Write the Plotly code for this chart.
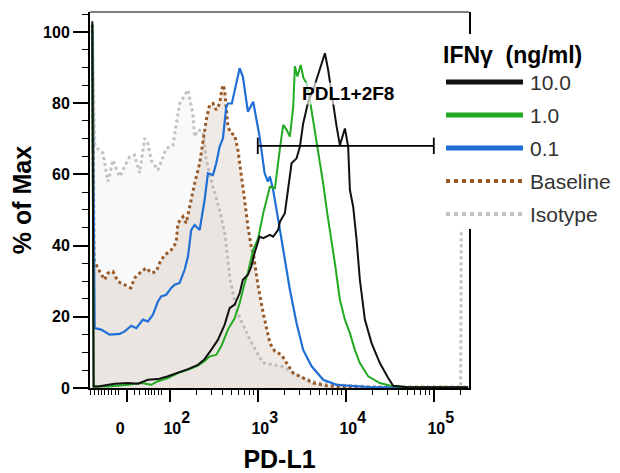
import numpy as np
import plotly.graph_objects as go

# ---------------- data ----------------
# x values are in biexponential display units (10^k sits at k, the "0" tick at ZERO_POS)
ZERO_POS = 1.51
x_tick_values = [ZERO_POS, 2, 3, 4, 5]
SUP = "<sup><sup><span style='font-size:16px'>{}</span></sup></sup>"
x_tick_labels = ["0\u00a0\u00a0\u00a0\u00a0\u00a0\u00a0"] + ["10" + SUP.format(k) for k in (2, 3, 4, 5)]
y_tick_values = [0, 20, 40, 60, 80, 100]

iso_x = [1.12, 1.147, 1.185, 1.241, 1.298, 1.355, 1.431, 1.545, 1.601, 1.658,
         1.715, 1.752, 1.790, 1.866, 1.960, 2.036, 2.112, 2.207, 2.263, 2.283,
         2.320, 2.377, 2.415, 2.491, 2.567, 2.624, 2.661, 2.685, 2.760, 2.797,
         2.911, 3.058, 3.286, 3.479, 3.672, 3.933, 4.3, 5.0, 5.305, 5.318]
iso_y = [101, 68.7, 67.1, 66.0, 58.0, 64.0, 59.4, 65.0, 65.4, 60.4,
         70.1, 68.7, 64.0, 61.2, 67.3, 68.2, 79.9, 83.7, 77.1, 70.6,
         72.5, 72.0, 64.0, 56.5, 50.0, 43.5, 36.0, 30.4, 22.0, 19.7,
         13.5, 7.1, 6.0, 3.2, 1.5, 0.9, 0.3, 0.2, 0.2, 80]

base_x = [1.12, 1.14, 1.165, 1.204, 1.261, 1.298, 1.355, 1.412, 1.488, 1.556,
          1.601, 1.676, 1.733, 1.790, 1.847, 1.885, 1.942, 1.999, 2.036, 2.074,
          2.093, 2.150, 2.187, 2.226, 2.283, 2.340, 2.377, 2.415, 2.453, 2.491,
          2.528, 2.567, 2.585, 2.604, 2.624, 2.642, 2.661, 2.698, 2.737, 2.775,
          2.812, 2.851, 2.888, 2.926, 2.948, 3.005, 3.062, 3.138, 3.195, 3.271,
          3.328, 3.403, 3.516, 3.630, 3.782, 3.933, 4.3, 5.39]
base_y = [102, 36.0, 34.6, 32.7, 30.4, 32.3, 32.7, 29.9, 29.0, 28.1,
          30.9, 32.7, 33.7, 32.3, 32.7, 35.1, 37.4, 38.3, 39.3, 41.1,
          46.3, 48.1, 46.3, 50.9, 57.5, 63.1, 68.7, 75.3, 79.5, 79.9,
          78.1, 79.9, 82.7, 85.1, 83.7, 78.1, 73.4, 71.5, 71.1, 66.8,
          60.3, 52.8, 45.3, 39.7, 37.9, 28.5, 21.0, 12.6, 10.3, 9.3,
          7.0, 4.2, 2.8, 1.4, 0.6, 0.4, 0.2, 0.2]

blue_x = [1.12, 1.147, 1.222, 1.317, 1.431, 1.488, 1.563, 1.620, 1.696, 1.752,
          1.809, 1.866, 1.903, 1.960, 2.017, 2.056, 2.112, 2.169, 2.207, 2.244,
          2.283, 2.340, 2.396, 2.434, 2.491, 2.528, 2.567, 2.604, 2.642, 2.661,
          2.706, 2.737, 2.794, 2.831, 2.888, 2.948, 2.975, 3.021, 3.078, 3.115,
          3.138, 3.175, 3.252, 3.308, 3.365, 3.441, 3.516, 3.612, 3.743, 3.896,
          4.047, 4.3, 5.39]
blue_y = [102, 16.8, 16.4, 15.0, 15.2, 15.9, 17.5, 16.8, 19.2, 18.7,
          20.6, 24.3, 25.7, 26.2, 28.1, 29.0, 29.5, 33.2, 36.9, 44.4,
          45.8, 44.4, 52.8, 60.3, 59.8, 63.1, 67.8, 70.1, 79.0, 79.9,
          79.9, 83.2, 89.8, 87.4, 77.6, 80.4, 77.0, 70.6, 60.3, 58.0,
          59.4, 55.6, 44.4, 36.0, 27.6, 18.2, 10.7, 6.1, 2.3, 0.9,
          0.6, 0.2, 0.2]

green_x = [1.12, 1.135, 1.185, 1.298, 1.525, 1.676, 1.790, 1.866, 1.980, 2.093,
           2.207, 2.320, 2.396, 2.453, 2.528, 2.585, 2.661, 2.737, 2.794, 2.851,
           2.888, 2.948, 3.005, 3.062, 3.138, 3.195, 3.252, 3.289, 3.328, 3.365,
           3.403, 3.422, 3.450, 3.488, 3.520, 3.555, 3.592, 3.630, 3.687, 3.743,
           3.789, 3.839, 3.876, 3.933, 3.990, 4.047, 4.103, 4.160, 4.254, 4.387,
           4.520, 4.7, 5.39]
green_y = [102, 0.4, 0.4, 0.4, 0.9, 1.4, 0.9, 1.9, 2.8, 4.2,
           5.1, 6.3, 7.5, 8.9, 9.3, 11.7, 16.4, 19.6, 23.8, 29.5,
           32.3, 38.8, 42.1, 49.1, 56.5, 56.1, 67.3, 73.9, 72.5, 70.6,
           79.0, 90.4, 87.5, 90.7, 87.0, 85.6, 80.9, 75.3, 66.8, 57.5,
           49.1, 41.6, 35.1, 24.8, 19.2, 15.4, 10.7, 7.0, 3.3, 1.4,
           0.6, 0.2, 0.2]

black_x = [1.12, 1.135, 1.185, 1.374, 1.525, 1.639, 1.752, 1.866, 1.980, 2.093,
           2.207, 2.320, 2.396, 2.471, 2.547, 2.624, 2.680, 2.737, 2.794, 2.831,
           2.888, 2.926, 2.964, 3.021, 3.062, 3.138, 3.175, 3.232, 3.252, 3.308,
           3.384, 3.441, 3.479, 3.516, 3.573, 3.630, 3.687, 3.725, 3.763, 3.800,
           3.857, 3.896, 3.933, 3.990, 4.027, 4.047, 4.084, 4.123, 4.160, 4.217,
           4.293, 4.387, 4.482, 4.538, 4.7, 5.39]
black_y = [103, 0.4, 0.4, 1.2, 1.4, 1.2, 2.3, 2.5, 3.3, 4.2,
           5.3, 6.5, 8.1, 10.7, 13.5, 17.8, 22.4, 23.4, 26.6, 30.4,
           31.8, 34.1, 37.9, 42.5, 42.1, 43.0, 42.5, 44.4, 46.7, 49.1,
           63.1, 64.5, 67.8, 74.3, 80.4, 83.7, 88.4, 91.2, 94.0, 89.3,
           79.0, 73.4, 68.2, 72.9, 67.8, 55.6, 50.9, 41.6, 30.4, 19.2,
           12.6, 7.0, 2.8, 0.6, 0.2, 0.2]

series_names = ["10.0", "1.0", "0.1", "Baseline", "Isotype"]

# gate (intensity 10^3 .. 10^5 in display units) and height (% of max)
gate_name = "PDL1+2F8"
gate_x = [3, 5]
gate_y = 68.0

# ---------------- styling ----------------
FONT = "Arial, 'Liberation Sans', Helvetica, sans-serif"
OFF = 8                      # page body margin of the browser
W, H = 620 - OFF, 473 - OFF  # figure fits inside the window
ML, MR, MT, MB = 90 - OFF, 151, 12 - OFF, 85
X_RANGE = [1.094, 5.40]
Y_RANGE = [0, 105.6]

styles = {
    "10.0": dict(color="#111111", width=2, dash="solid"),
    "1.0": dict(color="#22aa22", width=2, dash="solid"),
    "0.1": dict(color="#1f6fd6", width=2.2, dash="solid"),
    "Baseline": dict(color="#9a5a28", width=3, dash="dot"),
    "Isotype": dict(color="#c2c2c2", width=3, dash="dot"),
}
fills = {"Baseline": "rgba(190,170,150,0.25)", "Isotype": "rgba(200,200,200,0.10)"}

data = {
    "Isotype": (iso_x, iso_y),
    "Baseline": (base_x, base_y),
    "0.1": (blue_x, blue_y),
    "1.0": (green_x, green_y),
    "10.0": (black_x, black_y),
}

fig = go.Figure()
for name in ["Isotype", "Baseline", "0.1", "1.0", "10.0"]:
    xs, ys = data[name]
    kw = {}
    if name in fills:
        kw = dict(fill="tozeroy", fillcolor=fills[name])
    fig.add_trace(go.Scatter(x=xs, y=ys, mode="lines", name=name,
                             line=dict(**styles[name], shape="linear"),
                             showlegend=False, hoverinfo="skip", **kw))

# minor x ticks: linear region around zero, and log decades
minor_near_zero = [1.105, 1.150, 1.188, 1.227, 1.264, 1.302, 1.340, 1.378, 1.415,
                   1.605, 1.662, 1.719, 1.756, 1.794, 1.832, 1.869, 1.908]
minor_log = [k + np.log10(m) for k in (2, 3, 4) for m in range(2, 10)] + [5 + np.log10(2)]
x_minor = minor_near_zero + [float(v) for v in minor_log]

fig.update_xaxes(
    range=X_RANGE, showgrid=False, zeroline=False, automargin=False,
    showline=True, linewidth=2, linecolor="black",
    tickmode="array", tickvals=x_tick_values, ticktext=x_tick_labels,
    ticks="outside", ticklen=12, tickwidth=1.5, tickcolor="black",
    ticklabelstandoff=13, ticklabelshift=7,
    tickfont=dict(family=FONT, size=16, color="black", weight="bold"),
    minor=dict(tickmode="array", tickvals=x_minor, ticks="outside", ticklen=5,
               tickwidth=1.2, tickcolor="black", showgrid=False),
    title=dict(text="<b>PD-L1</b>", font=dict(family=FONT, size=25, color="black"), standoff=14),
)
fig.update_yaxes(
    range=Y_RANGE, showgrid=False, zeroline=False, automargin=False,
    showline=True, linewidth=2, linecolor="black", mirror=True,
    tickmode="array", tickvals=y_tick_values,
    ticks="outside", ticklen=15, tickwidth=2, tickcolor="black",
    tickfont=dict(family=FONT, size=16, color="black", weight="bold"),
    minor=dict(tickmode="linear", tick0=0, dtick=5, ticks="outside", ticklen=6,
               tickwidth=1.2, tickcolor="black", showgrid=False),
    title=dict(text="<b>% of Max</b>", font=dict(family=FONT, size=25, color="black"), standoff=21),
)

PW, PH = W - ML - MR, H - MT - MB


def px2paper_x(px):
    """page pixel -> paper coordinate"""
    return (px - OFF - ML) / PW


def py2paper_y(py):
    return (OFF + H - MB - py) / PH


shapes = []
# thin top frame line
shapes.append(dict(type="line", xref="paper", yref="paper", x0=0, x1=1, y0=1, y1=1,
                   line=dict(color="black", width=1), layer="above"))
# gate
shapes.append(dict(type="line", xref="x", yref="y", x0=gate_x[0], x1=gate_x[1], y0=gate_y, y1=gate_y,
                   line=dict(color="black", width=1.8)))
for gx in gate_x:
    shapes.append(dict(type="line", xref="x", yref="y", x0=gx, x1=gx, y0=gate_y - 2.3, y1=gate_y + 2.3,
                       line=dict(color="black", width=1.8)))
# legend background box
shapes.append(dict(type="rect", xref="paper", yref="paper",
                   x0=px2paper_x(436), x1=px2paper_x(630), y0=py2paper_y(229), y1=py2paper_y(34),
                   fillcolor="white", line=dict(width=0), layer="above"))

annotations = []
annotations.append(dict(x=4.03, y=82.8, xref="x", yref="y", text="<b>" + gate_name + "</b>",
                        showarrow=False, font=dict(family=FONT, size=19, color="black"),
                        bgcolor="rgba(255,255,255,0.65)", borderpad=0))

# manual legend
annotations.append(dict(x=px2paper_x(441), y=py2paper_y(55), xref="paper", yref="paper",
                        xanchor="left", yanchor="middle", showarrow=False,
                        text="<b>IFN\u03b3\u00a0\u00a0(ng/ml)</b>",
                        font=dict(family=FONT, size=23, color="black")))
leg_y0, leg_dy = 82, 33
for i, name in enumerate(series_names):
    yy = py2paper_y(leg_y0 + i * leg_dy)
    st = styles[name]
    lw = 5 if st["dash"] == "solid" else 4
    shapes.append(dict(type="line", xref="paper", yref="paper",
                       x0=px2paper_x(446), x1=px2paper_x(523), y0=yy, y1=yy,
                       line=dict(color=st["color"], width=lw, dash=st["dash"]), layer="above"))
    annotations.append(dict(x=px2paper_x(528), y=yy, xref="paper", yref="paper",
                            xanchor="left", yanchor="middle", showarrow=False, text=name,
                            font=dict(family=FONT, size=21, color="#333333")))

fig.update_layout(
    width=W, height=H, margin=dict(l=ML, r=MR, t=MT, b=MB, autoexpand=False),
    paper_bgcolor="white", plot_bgcolor="white",
    shapes=shapes, annotations=annotations, showlegend=False,
)

fig.write_html("out.html")
